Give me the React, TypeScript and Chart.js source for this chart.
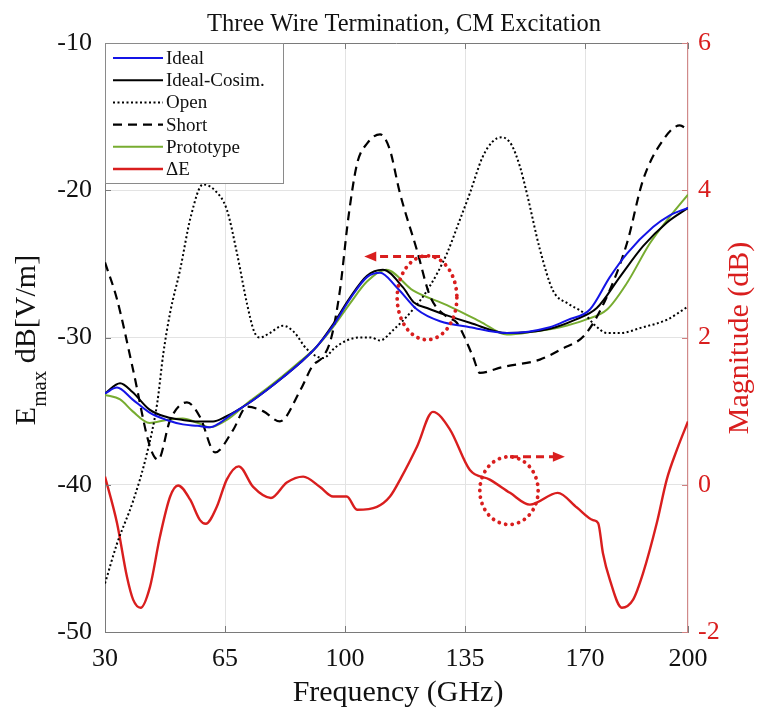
import { useEffect, useRef } from "react";
import { Chart, registerables } from "chart.js";

Chart.register(...registerables);

// ---------- data ----------
const xTickValues = [30, 65, 100, 135, 170, 200];

const idealFreq = [30, 33.5, 38, 43, 48, 52.7, 57, 60.6, 63.5, 67, 72.3, 77, 81.9, 87, 91.8, 96.5, 101.4, 106.4, 110.2, 115.1, 121, 127.7, 136.4, 147.2, 159.7, 165, 171.4, 177.2, 182.2, 189.8, 194.7, 200];
const idealE = [-33.8, -33.4, -34.2, -35.1, -35.6, -35.9, -36.0, -36.1, -35.8, -35.2, -34.4, -33.6, -32.7, -31.7, -30.6, -29.2, -27.4, -25.9, -25.6, -26.6, -28.1, -28.9, -29.3, -29.7, -29.3, -28.8, -28.1, -25.9, -24.3, -22.5, -21.7, -21.2];

const cosimFreq = [30, 34.4, 38, 43, 48, 52.7, 57, 61.5, 65, 72.3, 77, 81.9, 87, 91.8, 96.5, 101.4, 106.4, 111, 116.9, 120, 123.9, 129.7, 136.4, 147.2, 159.7, 167, 173.4, 180.1, 186.9, 193.8, 200];
const cosimE = [-33.8, -33.1, -33.7, -34.9, -35.4, -35.6, -35.7, -35.7, -35.4, -34.4, -33.6, -32.7, -31.7, -30.6, -29.1, -27.3, -25.8, -25.4, -26.6, -27.6, -28.0, -28.5, -29.0, -29.7, -29.4, -28.8, -28.0, -25.9, -23.8, -22.2, -21.2];

const openFreq = [30, 33.5, 38.2, 42.2, 45.2, 47, 49, 51.9, 55, 58.6, 62, 65.5, 68.5, 71.4, 73.5, 75.2, 78, 81.9, 85, 88.9, 93.6, 97, 100.5, 104.3, 107.5, 110.2, 114, 119.8, 124.5, 129.7, 133, 136.4, 140, 143, 145.7, 148.5, 151, 153, 156.8, 160.6, 165, 169.4, 173, 176.4, 180, 186.9, 193.8, 200];
const openE = [-46.7, -44.0, -41.1, -37.9, -34.5, -31.1, -28.3, -25.4, -21.8, -19.6, -20.0, -21.3, -24.3, -27.7, -29.6, -30.0, -29.7, -29.2, -29.6, -30.8, -31.4, -30.7, -30.2, -30.0, -30.0, -30.2, -29.5, -28.1, -26.6, -24.3, -22.3, -20.2, -17.8, -16.7, -16.4, -16.9, -18.4, -20.2, -24.0, -26.8, -27.7, -28.3, -29.2, -29.7, -29.7, -29.3, -28.8, -27.9];

const shortFreq = [30, 33.5, 38.2, 43.1, 45.5, 49, 53.9, 57.7, 62.1, 67.3, 71.4, 76.1, 81, 86.9, 90.6, 93.6, 96, 98.5, 101, 103.5, 106.5, 110.2, 113, 116, 121, 124.8, 129.7, 132.6, 137.3, 139.3, 146, 156.8, 163, 170, 176.4, 182.2, 186.9, 192.7, 197.6, 200];
const shortE = [-24.9, -27.4, -32.2, -37.4, -38.3, -35.6, -34.4, -35.4, -37.8, -36.3, -34.7, -35.0, -35.7, -33.6, -31.9, -31.3, -30.0, -26.8, -21.8, -18.2, -16.8, -16.2, -17.2, -20.2, -24.1, -27.2, -28.6, -29.0, -31.3, -32.4, -32.0, -31.5, -30.8, -29.8, -27.2, -23.6, -19.3, -16.6, -15.6, -15.9];

const protoFreq = [30, 34.4, 38, 43, 48, 52.7, 57, 60.6, 65.5, 72.3, 77, 81.9, 87, 91.8, 96.5, 101.4, 106.4, 112, 119.8, 129.7, 139.3, 147.2, 155, 162.7, 170, 176.4, 182.2, 188.9, 194.7, 200];
const protoE = [-33.9, -34.2, -35.0, -35.8, -35.6, -35.5, -35.8, -36.1, -35.6, -34.3, -33.5, -32.6, -31.6, -30.6, -29.3, -27.7, -26.2, -25.4, -26.8, -27.8, -28.9, -29.8, -29.6, -29.3, -28.8, -28.1, -26.3, -23.6, -21.8, -20.3];

const deltaFreq = [30, 33.5, 36.4, 38.2, 40.4, 43.1, 46, 49, 51.3, 54.8, 57.7, 59.4, 62.6, 65.5, 69, 73.2, 78.4, 83, 87.8, 92.7, 96.5, 100.5, 103.5, 109.3, 113.1, 116.4, 121, 125.6, 130.6, 136.4, 142.2, 148.1, 153.9, 162, 167.6, 172.3, 173.8, 175.2, 177.2, 180.7, 184, 186.9, 190.9, 193.8, 196.8, 200];
const deltaE = [0.11, -0.52, -1.25, -1.56, -1.67, -1.39, -0.71, -0.16, -0.01, -0.2, -0.48, -0.53, -0.3, 0.07, 0.25, -0.03, -0.18, 0.03, 0.11, -0.03, -0.16, -0.16, -0.34, -0.30, -0.16, 0.1, 0.52, 0.99, 0.75, 0.2, 0.07, -0.11, -0.27, -0.11, -0.31, -0.48, -0.52, -0.93, -1.29, -1.67, -1.56, -1.2, -0.52, 0.07, 0.48, 0.86];

const seriesLabels = ["Ideal", "Ideal-Cosim.", "Open", "Short", "Prototype", "\u0394E"];

// annotation marks (in data units)
const circleX = [123.9, 147.8];
const circleY = [-27.3, -0.08];
const circleRx = [8.7, 8.5];
const circleRy = [2.85, 0.46];
const circleAxis = ["y", "y2"];
const arrowFrom = [127.7, 148.1];
const arrowTo = [105.6, 164.1];
const arrowY = [-24.5, 0.38];
const arrowAxis = ["y", "y2"];

// ---------- styles ----------
const SERIF = "'Liberation Serif', 'Times New Roman', serif";
const RED = "#d91e1e";
const AXIS_GREY = "#7a7a7a";
const colors = ["#1414e6", "#000000", "#000000", "#000000", "#77ac30", RED];
const dashes: number[][] = [[], [], [2, 2.5], [9, 6], [], []];
const widths = [2, 2, 2, 2.2, 2, 2.4];

const pts = (xs: number[], ys: number[]) => xs.map((x, i) => ({ x, y: ys[i] }));

const decorPlugin = {
  id: "decor",
  afterDatasetsDraw(chart: any) {
    const { ctx, scales } = chart;
    const xs = scales.x;
    ctx.save();
    ctx.strokeStyle = RED;
    ctx.fillStyle = RED;
    // dotted circles
    for (let i = 0; i < circleX.length; i++) {
      const ys = scales[circleAxis[i]];
      const cx = xs.getPixelForValue(circleX[i]);
      const cy = ys.getPixelForValue(circleY[i]);
      const rx = Math.abs(xs.getPixelForValue(circleX[i] + circleRx[i]) - cx);
      const ry = Math.abs(ys.getPixelForValue(circleY[i] + circleRy[i]) - cy);
      ctx.beginPath();
      ctx.lineWidth = 3.8;
      ctx.lineCap = "round";
      ctx.setLineDash([0.1, 6.5]);
      ctx.ellipse(cx, cy, rx, ry, 0, 0, Math.PI * 2);
      ctx.stroke();
    }
    // dashed arrows
    for (let i = 0; i < arrowFrom.length; i++) {
      const ys = scales[arrowAxis[i]];
      const x0 = xs.getPixelForValue(arrowFrom[i]);
      const x1 = xs.getPixelForValue(arrowTo[i]);
      const y = ys.getPixelForValue(arrowY[i]);
      const dir = x1 > x0 ? 1 : -1;
      ctx.beginPath();
      ctx.lineWidth = 2.8;
      ctx.lineCap = "butt";
      ctx.setLineDash([8, 5]);
      ctx.moveTo(x0, y);
      ctx.lineTo(x1 - dir * 10, y);
      ctx.stroke();
      ctx.setLineDash([]);
      ctx.beginPath();
      ctx.moveTo(x1, y);
      ctx.lineTo(x1 - dir * 12, y - 5);
      ctx.lineTo(x1 - dir * 12, y + 5);
      ctx.closePath();
      ctx.fill();
    }
    ctx.restore();
  },
  afterDraw(chart: any) {
    const { ctx, chartArea, scales } = chart;
    const { left, right, top, bottom } = chartArea;
    ctx.save();
    // top border
    ctx.strokeStyle = AXIS_GREY;
    ctx.lineWidth = 1;
    ctx.beginPath();
    ctx.moveTo(left, top + 0.5);
    ctx.lineTo(right, top + 0.5);
    ctx.stroke();
    // inward tick marks
    ctx.beginPath();
    for (const v of xTickValues) {
      const px = Math.round(scales.x.getPixelForValue(v)) + 0.5;
      ctx.moveTo(px, bottom);
      ctx.lineTo(px, bottom - 6);
      ctx.moveTo(px, top);
      ctx.lineTo(px, top + 6);
    }
    for (const t of scales.y.ticks) {
      const py = Math.round(scales.y.getPixelForValue(t.value)) + 0.5;
      ctx.moveTo(left, py);
      ctx.lineTo(left + 6, py);
    }
    ctx.stroke();
    ctx.strokeStyle = "#d08080";
    ctx.beginPath();
    for (const t of scales.y2.ticks) {
      const py = Math.round(scales.y2.getPixelForValue(t.value)) + 0.5;
      ctx.moveTo(right, py);
      ctx.lineTo(right - 6, py);
    }
    ctx.stroke();

    // legend
    const lx = left, ly = top, lw = 178, lh = 140;
    ctx.fillStyle = "#ffffff";
    ctx.fillRect(lx, ly, lw, lh);
    ctx.strokeStyle = "#8a8a8a";
    ctx.lineWidth = 1;
    ctx.strokeRect(lx + 0.5, ly + 0.5, lw, lh);
    ctx.font = `19px ${SERIF}`;
    ctx.textBaseline = "middle";
    ctx.textAlign = "left";
    for (let i = 0; i < seriesLabels.length; i++) {
      const yy = ly + 15 + i * 22.2;
      ctx.beginPath();
      ctx.strokeStyle = colors[i];
      ctx.lineWidth = widths[i];
      ctx.setLineDash(dashes[i]);
      ctx.moveTo(lx + 8, yy);
      ctx.lineTo(lx + 58, yy);
      ctx.stroke();
      ctx.setLineDash([]);
      ctx.fillStyle = "#111";
      ctx.fillText(seriesLabels[i], lx + 61, yy + 1);
    }

    // chart title
    ctx.fillStyle = "#111";
    ctx.textAlign = "center";
    ctx.textBaseline = "alphabetic";
    ctx.font = `24.5px ${SERIF}`;
    ctx.fillText("Three Wire Termination, CM Excitation", 404, 31);

    // x-axis title
    ctx.font = `30px ${SERIF}`;
    ctx.fillText("Frequency (GHz)", 398, 701);

    // left axis title with subscript
    ctx.save();
    ctx.translate(35, 340);
    ctx.rotate(-Math.PI / 2);
    ctx.textAlign = "left";
    const mainFont = `30px ${SERIF}`;
    const subFont = `21px ${SERIF}`;
    ctx.font = mainFont;
    const wE = ctx.measureText("E").width;
    const wRest = ctx.measureText(" dB[V/m]").width;
    ctx.font = subFont;
    const wSub = ctx.measureText("max").width;
    const total = wE + wSub + wRest;
    let cx = -total / 2;
    ctx.font = mainFont;
    ctx.fillText("E", cx, 0);
    cx += wE;
    ctx.font = subFont;
    ctx.fillText("max", cx, 11);
    cx += wSub;
    ctx.font = mainFont;
    ctx.fillText(" dB[V/m]", cx, 0);
    ctx.restore();

    // right axis title
    ctx.save();
    ctx.translate(748, 338);
    ctx.rotate(-Math.PI / 2);
    ctx.textAlign = "center";
    ctx.fillStyle = RED;
    ctx.font = `30px ${SERIF}`;
    ctx.fillText("Magnitude (dB)", 0, 0);
    ctx.restore();

    ctx.restore();
  },
};

export default function App() {
  const ref = useRef<HTMLCanvasElement | null>(null);

  useEffect(() => {
    if (!ref.current) return;
    const seriesFreq = [idealFreq, cosimFreq, openFreq, shortFreq, protoFreq, deltaFreq];
    const seriesVals = [idealE, cosimE, openE, shortE, protoE, deltaE];
    const datasets = seriesLabels.map((label, i) => ({
      label,
      data: pts(seriesFreq[i], seriesVals[i]),
      borderColor: colors[i],
      backgroundColor: colors[i],
      borderWidth: widths[i],
      borderDash: dashes[i],
      pointRadius: 0,
      fill: false,
      cubicInterpolationMode: "monotone" as const,
      yAxisID: i === 5 ? "y2" : "y",
    }));

    const tickFont = { family: SERIF, size: 26 };
    const chart = new Chart(ref.current, {
      type: "line",
      data: { datasets },
      options: {
        animation: false,
        responsive: false,
        layout: { padding: { top: 43, left: 0, right: 0, bottom: 0 } },
        plugins: { legend: { display: false }, tooltip: { enabled: false }, title: { display: false } },
        scales: {
          x: {
            type: "linear",
            min: 30,
            max: 200,
            afterBuildTicks: (s: any) => {
              s.ticks = xTickValues.map((v) => ({ value: v }));
            },
            afterFit: (s: any) => {
              s.height = 76;
            },
            grid: {
              drawTicks: false,
              color: (c: any) => (c.tick && (c.tick.value === 30 || c.tick.value === 200) ? "rgba(0,0,0,0)" : "#e3e3e3"),
            },
            border: { color: AXIS_GREY, width: 1 },
            ticks: { font: tickFont, color: "#111", padding: 12, maxRotation: 0, autoSkip: false },
          },
          y: {
            type: "linear",
            position: "left",
            min: -50,
            max: -10,
            afterFit: (s: any) => {
              s.width = 105;
            },
            grid: {
              drawTicks: false,
              color: (c: any) => (c.tick && (c.tick.value === -50 || c.tick.value === -10) ? "rgba(0,0,0,0)" : "#e3e3e3"),
            },
            border: { color: AXIS_GREY, width: 1 },
            ticks: { stepSize: 10, font: tickFont, color: "#111", padding: 13 },
          },
          y2: {
            type: "linear",
            position: "right",
            min: -2,
            max: 6,
            afterFit: (s: any) => {
              s.width = 74;
            },
            grid: { display: false, drawTicks: false },
            border: { color: "#d08a8a", width: 1.2 },
            ticks: { stepSize: 2, font: tickFont, color: RED, padding: 10 },
          },
        },
      },
      plugins: [decorPlugin],
    } as any);
    return () => chart.destroy();
  }, []);

  return (
    <div style={{ position: "absolute", left: 0, top: 0, width: 762, height: 708, background: "#fff" }}>
      <canvas ref={ref} width={762} height={708} style={{ display: "block" }} />
    </div>
  );
}
